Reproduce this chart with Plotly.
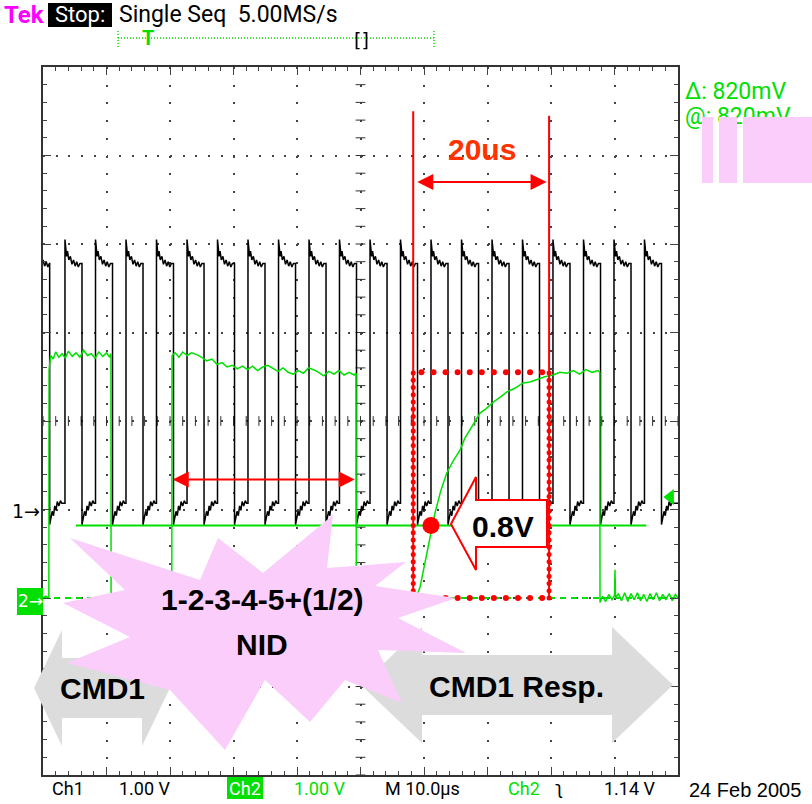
import numpy as np
import plotly.graph_objects as go

# ---------------- values ----------------
TIME_RANGE_US = [0.0, 100.0]      # M 10.0 us/div, 10 divisions
DIV_RANGE = [-4.0, 4.0]           # 8 vertical divisions
CH1_GND_DIV = -1.0                # "1->" marker
CH2_GND_DIV = -2.0                # "2->" marker
CH1_V_PER_DIV = 1.00
CH2_V_PER_DIV = 1.00

# Ch1 (black) edge times in us
CH1_RISE_US = [-1.34, 3.46, 8.27, 13.07, 17.87, 22.68, 27.48, 32.28, 37.09, 41.89, 46.69,
               51.50, 56.30, 61.10, 65.91, 70.71, 75.51, 80.31, 85.12, 89.92, 94.72]
CH1_FALL_US = [1.05, 6.14, 10.95, 15.75, 20.55, 25.36, 30.16, 34.96, 39.77, 44.57, 49.37,
               54.18, 58.98, 63.78, 68.59, 73.39, 78.19, 82.99, 87.80, 92.60, 97.40]
# shape of one pulse (time after edge, volts)
CH1_HIGH_DT_US = [0.00, 0.10, 0.25, 0.40, 0.60, 0.85, 1.10, 1.35, 1.60, 1.85, 2.10, 2.35]
CH1_HIGH_V = [3.05, 2.95, 2.86, 2.92, 2.82, 2.86, 2.77, 2.82, 2.75, 2.80, 2.74, 2.78]
CH1_LOW_DT_US = [0.00, 0.20, 0.40, 0.60, 0.80, 1.00, 1.20, 1.45, 1.70, 1.90]
CH1_LOW_V = [-0.17, -0.10, -0.02, -0.07, 0.04, -0.01, 0.09, 0.04, 0.10, 0.07]

# Ch2 (green) samples
CH2_T_US = [0.00, 0.45, 0.92, 0.96, 1.2, 1.6, 2.0, 2.5, 3.0, 3.5, 4.0, 4.6, 5.2, 5.8, 6.4, 7.0, 7.6,
            8.2, 8.8, 9.4, 10.0, 10.5, 10.70,
            10.72, 11.3, 12.0, 12.8, 13.6, 14.5, 15.4, 16.3, 17.2, 18.1, 19.0, 19.9, 20.28,
            20.32, 20.8, 21.4, 22.0, 22.7, 23.4, 24.2, 25.0, 25.8, 26.6, 27.4, 28.2, 29.0, 29.8,
            30.6, 31.4, 32.2, 33.0, 33.8, 34.6, 35.4, 36.2, 37.0, 37.8, 38.6, 39.4, 40.2, 41.0,
            41.8, 42.6, 43.4, 44.2, 45.0, 45.8, 46.6, 47.4, 48.2, 49.0, 49.30,
            49.34, 50.2, 51.2, 52.2, 53.2, 54.2, 55.2, 56.2, 57.2, 58.2, 58.7,
            58.85, 59.37, 60.2, 60.94, 61.73, 62.6, 63.57, 64.6, 65.67, 66.4, 67.24, 68.0, 68.82,
            69.8, 70.87, 72.0, 73.07, 74.3, 75.59, 76.7, 77.8, 79.0, 80.31, 81.4, 82.52, 83.5,
            84.5, 85.5, 86.5, 87.4, 87.68,
            87.72, 88.1, 88.6, 89.1, 89.6, 90.0, 90.08, 90.16, 90.6, 91.1, 91.6, 92.1, 92.6,
            93.1, 93.6, 94.1, 94.6, 95.1, 95.6, 96.1, 96.6, 97.1, 97.6, 98.1, 98.6, 99.1, 99.6, 100.0]
CH2_V = [0.00, 0.02, 0.00, 2.58, 2.74, 2.70, 2.78, 2.72, 2.76, 2.71, 2.79, 2.73, 2.77, 2.72, 2.80,
         2.74, 2.76, 2.71, 2.78, 2.73, 2.77, 2.72, 2.76,
         0.00, 0.03, -0.02, 0.02, 0.00, 0.03, -0.01, 0.02, 0.00, 0.02, -0.01, 0.01, 0.00,
         2.74, 2.77, 2.72, 2.78, 2.74, 2.77, 2.75, 2.72, 2.68, 2.70, 2.64, 2.66, 2.61, 2.63,
         2.59, 2.62, 2.58, 2.62, 2.57, 2.61, 2.63, 2.59, 2.56, 2.60, 2.55, 2.53, 2.57, 2.54,
         2.60, 2.58, 2.55, 2.51, 2.56, 2.53, 2.57, 2.52, 2.55, 2.52, 2.54,
         0.00, 0.02, -0.01, 0.02, 0.00, 0.03, -0.01, 0.02, 0.00, 0.01, 0.00,
         0.02, 0.12, 0.42, 0.66, 0.96, 1.20, 1.41, 1.55, 1.67, 1.80, 1.90, 2.00, 2.09,
         2.14, 2.21, 2.27, 2.33, 2.37, 2.43, 2.44, 2.47, 2.50, 2.52, 2.55, 2.54, 2.57,
         2.53, 2.58, 2.55, 2.57, 2.55,
         -0.05, 0.02, -0.04, 0.04, -0.02, 0.03, 0.32, 0.00, 0.05, -0.03, 0.06, -0.04, 0.05,
         -0.02, 0.06, -0.03, 0.04, -0.04, 0.05, -0.02, 0.06, -0.03, 0.04, -0.02, 0.05, -0.03, 0.04, 0.00]

CURSOR_V = 0.82                 # "Δ: 820mV  @: 820mV"
CURSOR_T_US = [5.2, 95.0]
TRIG_V = 1.14                   # "Ch2 \ 1.14 V"
MARK_T_US = [58.3, 79.7]        # red 20us markers
MARK_BOX_TOP_V = 2.55
MARK_DOT_T_US = 61.1
NID_ARROW_T_US = [20.2, 49.1]
NID_ARROW_DIV = -0.66
SPAN_ARROW_DIV = 2.7

# ---------------- geometry helpers ----------------
W, H = 812, 804
PL, PR, PT, PB = 43, 678, 67, 775


def xp(px):
    return (px - PL) / (PR - PL)


def yp(py):
    return (PB - py) / (PB - PT)


def path_px(pts):
    return "M" + " L".join(f"{xp(x):.5f},{yp(y):.5f}" for x, y in pts) + " Z"


# ---------------- build Ch1 ----------------
t1, v1 = [], []
n = len(CH1_RISE_US)
for i in range(n):
    r, f = CH1_RISE_US[i], CH1_FALL_US[i]
    nr = CH1_RISE_US[i + 1] if i + 1 < n else TIME_RANGE_US[1] + 0.01
    for dt, v in zip(CH1_HIGH_DT_US, CH1_HIGH_V):
        if r + dt < f:
            t1.append(r + dt); v1.append(v)
    t1.append(f); v1.append(v1[-1])
    for dt, v in zip(CH1_LOW_DT_US, CH1_LOW_V):
        if f + dt < nr:
            t1.append(f + dt); v1.append(v)
    t1.append(nr); v1.append(v1[-1])
y1 = [CH1_GND_DIV + v / CH1_V_PER_DIV for v in v1]
y2 = [CH2_GND_DIV + v / CH2_V_PER_DIV for v in CH2_V]

GREEN = "#00E000"
RED = "#FF0000"
PINK = "#FACDFA"
GREY = "#DCDCDC"
SCOPE = "Roboto, Liberation Sans, sans-serif"
BOLD = "Liberation Sans, Arial, sans-serif"

fig = go.Figure()

# center graticule tick marks
ct = np.arange(0, 100.01, 2.0)
fig.add_trace(go.Scatter(x=ct, y=[0] * len(ct), mode="markers", hoverinfo="skip",
                         marker=dict(symbol="line-ns", size=7, line=dict(width=1, color="#333"))))
cd = np.arange(-4, 4.01, 0.2)
fig.add_trace(go.Scatter(x=[50] * len(cd), y=cd, mode="markers", hoverinfo="skip",
                         marker=dict(symbol="line-ew", size=7, line=dict(width=1, color="#333"))))

# cursors
fig.add_trace(go.Scatter(x=TIME_RANGE_US, y=[CH2_GND_DIV] * 2, mode="lines",
                         line=dict(color=GREEN, width=2, dash="6px,5px"), hoverinfo="skip"))
fig.add_trace(go.Scatter(x=CURSOR_T_US, y=[CH2_GND_DIV + CURSOR_V] * 2, mode="lines",
                         line=dict(color=GREEN, width=2), hoverinfo="skip"))

# waveforms
fig.add_trace(go.Scatter(x=t1, y=y1, mode="lines", line=dict(color="#000", width=1.5), hoverinfo="skip"))
fig.add_trace(go.Scatter(x=CH2_T_US, y=y2, mode="lines", line=dict(color=GREEN, width=1.5), hoverinfo="skip"))

# red dotted box
top = CH2_GND_DIV + MARK_BOX_TOP_V
bot = CH2_GND_DIV
hx = np.arange(MARK_T_US[0] + 1.3, MARK_T_US[1], 1.9)
vy = np.arange(bot, top + 0.001, 0.082)
fig.add_trace(go.Scatter(x=list(hx) + list(hx), y=[top] * len(hx) + [bot] * len(hx), mode="markers",
                         hoverinfo="skip", marker=dict(color=RED, size=6, line=dict(width=0))))
fig.add_trace(go.Scatter(x=[MARK_T_US[0]] * len(vy) + [MARK_T_US[1]] * len(vy), y=list(vy) + list(vy),
                         mode="markers", hoverinfo="skip", marker=dict(color=RED, size=5, line=dict(width=0))))
fig.add_trace(go.Scatter(x=[MARK_DOT_T_US], y=[CH2_GND_DIV + CURSOR_V], mode="markers", hoverinfo="skip",
                         marker=dict(color=RED, size=17, line=dict(width=0))))
# trigger level marker
fig.add_trace(go.Scatter(x=[98.8], y=[CH2_GND_DIV + TRIG_V], mode="markers", cliponaxis=False,
                         hoverinfo="skip", marker=dict(symbol="triangle-left", color=GREEN, size=14)))

shapes = []
# red time markers
for tm, ytop in zip(MARK_T_US, [3.50, 3.45]):
    shapes.append(dict(type="line", xref="x", yref="y", x0=tm, x1=tm, y0=ytop, y1=CH2_GND_DIV,
                       line=dict(color=RED, width=2), layer="above"))
# grey arrows
shapes.append(dict(type="path", xref="paper", yref="paper", layer="above", fillcolor=GREY,
                   line=dict(width=0),
                   path=path_px([(34, 688), (62, 630), (62, 658), (142, 658), (142, 630), (170, 688),
                                 (142, 746), (142, 718), (62, 718), (62, 746)])))
shapes.append(dict(type="path", xref="paper", yref="paper", layer="above", fillcolor=GREY,
                   line=dict(width=0),
                   path=path_px([(361, 685), (422, 627), (422, 655), (612, 655), (612, 627), (673, 685),
                                 (612, 743), (612, 715), (422, 715), (422, 743)])))
# pink explosion
STAR = [(70, 538), (200, 580), (218, 538), (263, 573), (333, 515), (327, 568), (406, 562), (375, 586),
        (456, 598), (398, 618), (466, 653), (378, 650), (402, 703), (345, 680), (310, 722), (265, 680),
        (225, 750), (170, 690), (67, 663), (130, 637), (63, 603), (125, 590)]
shapes.append(dict(type="path", xref="paper", yref="paper", layer="above", fillcolor=PINK,
                   line=dict(width=0), path=path_px(STAR)))
# red block arrow
shapes.append(dict(type="path", xref="paper", yref="paper", layer="above", fillcolor="white",
                   line=dict(width=2, color=RED),
                   path=path_px([(451, 524), (476, 477), (476, 500), (547, 500), (547, 547),
                                 (476, 547), (476, 570)])))
# header
shapes.append(dict(type="rect", xref="paper", yref="paper", fillcolor="black", line=dict(width=0),
                   x0=xp(48), x1=xp(112), y0=yp(27), y1=yp(3)))
shapes.append(dict(type="line", xref="paper", yref="paper", x0=xp(118), x1=xp(434), y0=yp(38), y1=yp(38),
                   line=dict(color=GREEN, width=1.5, dash="1px,2px")))
for xx in (118, 434):
    shapes.append(dict(type="line", xref="paper", yref="paper", x0=xp(xx), x1=xp(xx), y0=yp(31), y1=yp(49),
                       line=dict(color=GREEN, width=1.5, dash="1px,2px")))
# channel boxes
shapes.append(dict(type="rect", xref="paper", yref="paper", fillcolor=GREEN, line=dict(width=0),
                   x0=xp(17), x1=xp(43), y0=yp(615), y1=yp(588)))
shapes.append(dict(type="rect", xref="paper", yref="paper", fillcolor=GREEN, line=dict(width=0),
                   x0=xp(227), x1=xp(263), y0=yp(799), y1=yp(777)))

ann = []


def txt(px, py, s, size, color="black", family=BOLD, xanchor="center", bold=False):
    ann.append(dict(xref="paper", yref="paper", x=xp(px), y=yp(py), text=(f"<b>{s}</b>" if bold else s),
                    showarrow=False, xanchor=xanchor, yanchor="middle",
                    font=dict(family=family, size=size, color=color)))


txt(482, 149, "20us", 30, "#FF3300", bold=True)
txt(503, 526, "0.8V", 30, "black", bold=True)
txt(262, 599, "1-2-3-4-5+(1/2)", 30, bold=True)
txt(262, 644, "NID", 30, bold=True)
txt(102, 688, "CMD1", 30, bold=True)
txt(516, 686, "CMD1 Resp.", 30, bold=True)

# header / footer texts
txt(2, 15, "<b>Tek</b>", 24, "#FF00FF", SCOPE, "left")
txt(80, 15, "Stop:", 22, "white", SCOPE)
txt(117, 15, "Single Seq  5.00MS/s", 23, "black", SCOPE, "left")
txt(148, 38, "<b>T</b>", 20, GREEN, SCOPE)
txt(361, 40, "[]", 19, "black", "DejaVu Sans")
txt(683, 92, "Δ: 820mV", 23, GREEN, SCOPE, "left")
txt(683, 117, "@: 820mV", 23, GREEN, SCOPE, "left")
# pink blocks that hide part of the cursor read-out (drawn after it)
for x0, x1 in [(702, 713), (719, 737), (743, 812)]:
    ann.append(dict(xref="paper", yref="paper", x=xp(x0), y=yp(117), xanchor="left", yanchor="top",
                    text=".", showarrow=False, width=x1 - x0, height=183 - 117, bgcolor=PINK,
                    borderpad=0, borderwidth=0, font=dict(size=10, color=PINK)))
txt(42, 511, "1→", 19, "black", "DejaVu Sans", "right")
txt(30, 601, "2→", 17, "white", "DejaVu Sans")
txt(50, 788, "Ch1", 18, "black", SCOPE, "left")
txt(117, 788, "1.00 V", 18, "black", SCOPE, "left")
txt(245, 788, "Ch2", 18, "white", SCOPE)
txt(292, 788, "1.00 V", 18, GREEN, SCOPE, "left")
txt(383, 788, "M 10.0µs", 18, "black", SCOPE, "left")
txt(506, 788, "Ch2", 18, GREEN, SCOPE, "left")
txt(553, 787, "ʅ", 18, "black", "DejaVu Sans", "left")
txt(602, 788, "1.14 V", 18, "black", SCOPE, "left")
txt(687, 790, "24 Feb 2005", 20, "black", BOLD, "left")

# red double arrows
for (xa, xb, yy) in [(NID_ARROW_T_US[0], NID_ARROW_T_US[1], NID_ARROW_DIV),
                     (MARK_T_US[0] + 0.4, MARK_T_US[1] - 0.4, SPAN_ARROW_DIV)]:
    ann.append(dict(x=xb, y=yy, ax=xa, ay=yy, xref="x", yref="y", axref="x", ayref="y", text="",
                    showarrow=True, arrowhead=2, startarrowhead=2, arrowside="end+start",
                    arrowsize=1.6, startarrowsize=1.6, arrowwidth=2, arrowcolor=RED))

fig.update_layout(
    width=W, height=H, margin=dict(l=PL, r=W - PR, t=PT, b=H - PB),
    paper_bgcolor="white", plot_bgcolor="white", showlegend=False,
    shapes=shapes, annotations=ann,
    xaxis=dict(range=TIME_RANGE_US, showticklabels=False, zeroline=False,
               showgrid=True, dtick=10, tick0=0, gridcolor="#444", gridwidth=1.5, griddash="2px,15.7px",
               showline=True, linecolor="#333", linewidth=2, mirror="allticks",
               ticks="inside", ticklen=8, tickcolor="#444",
               minor=dict(dtick=2, ticks="inside", ticklen=4, tickcolor="#444", showgrid=False)),
    yaxis=dict(range=DIV_RANGE, showticklabels=False, zeroline=False,
               showgrid=True, dtick=1, tick0=0, gridcolor="#444", gridwidth=1.5, griddash="2px,10.7px",
               showline=True, linecolor="#333", linewidth=2, mirror="allticks",
               ticks="inside", ticklen=8, tickcolor="#444",
               minor=dict(dtick=0.2, ticks="inside", ticklen=4, tickcolor="#444", showgrid=False)),
)
fig.write_html("out.html")
